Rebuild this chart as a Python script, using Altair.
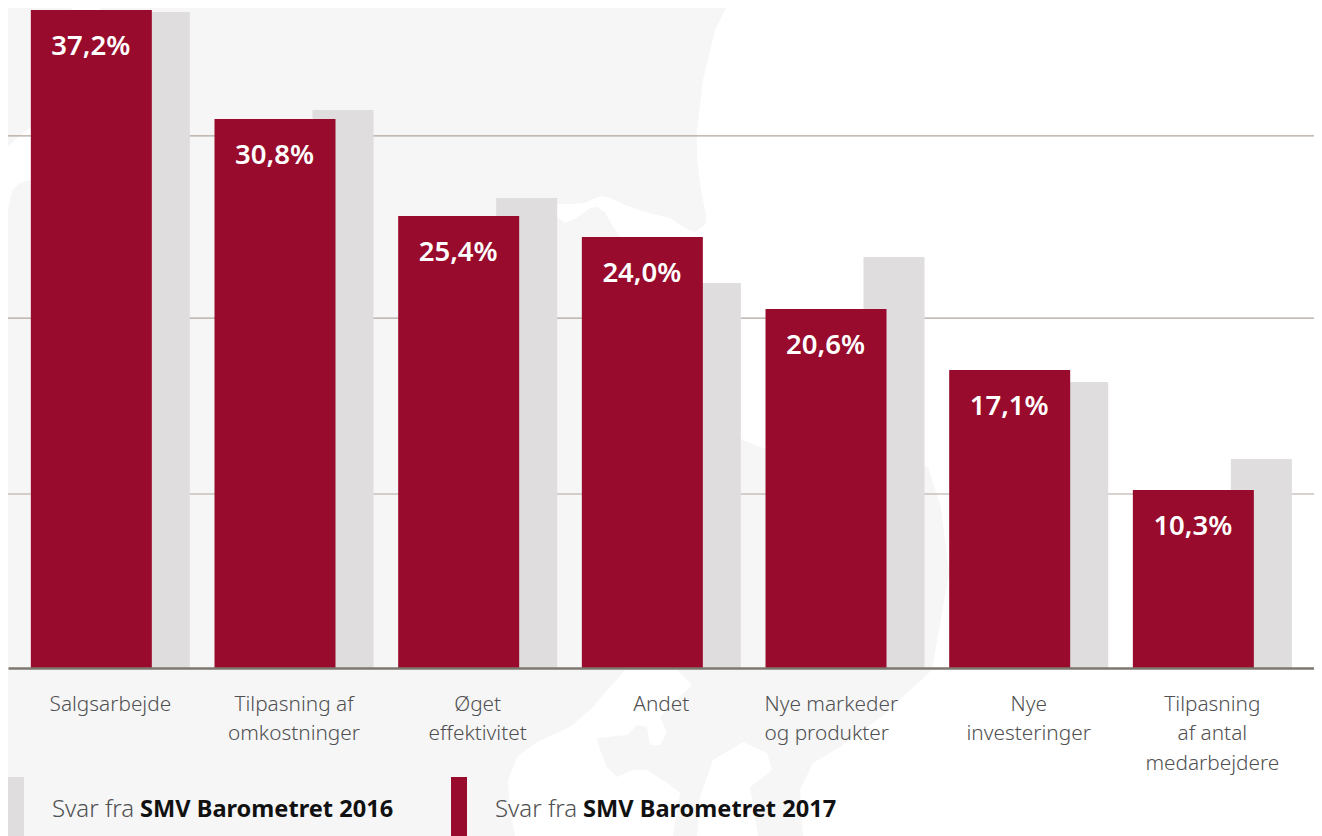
import altair as alt
import pandas as pd

FONT = "Noto Sans"
RED = "#990b2c"
GREY = "#dfddde"

categories = ["Salgsarbejde", "Tilpasning af|omkostninger", "Øget|effektivitet", "Andet",
              "Nye markeder|og produkter", "Nye|investeringer", "Tilpasning|af antal|medarbejdere"]
bar_2017 = [37.18, 31.02, 25.54, 24.35, 20.28, 16.84, 10.06]
bar_2016 = [37.06, 31.53, 26.55, 21.75, 23.22, 16.16, 11.81]
labels_2017 = ["37,2%", "30,8%", "25,4%", "24,0%", "20,6%", "17,1%", "10,3%"]
grid_values = [9.83, 19.77, 30.06]

# faint background map outline
map_outline = [
    (730, 0), (715, 30), (703, 80), (697, 130), (697, 160), (701, 190), (706, 215), (705, 225), (695, 232),
    (685, 228), (670, 218), (645, 212), (625, 205), (610, 198), (603, 196), (598, 197), (585, 203), (570, 204),
    (557, 204), (540, 210), (557, 217), (565, 223), (575, 219), (590, 208), (597, 207), (605, 212), (612, 225),
    (620, 237), (640, 300), (700, 400), (743, 440), (768, 450), (850, 460), (928, 467), (941, 507), (949, 573),
    (932, 670), (881, 717), (840, 747), (813, 763), (800, 790), (803, 836), (758, 836), (750, 787), (772, 770),
    (767, 753), (743, 742), (713, 760), (700, 797), (697, 836), (673, 836), (680, 793), (667, 783), (647, 770),
    (633, 770), (617, 777), (607, 767), (600, 750), (597, 738), (627, 735), (637, 725), (647, 727), (650, 745),
    (660, 745), (667, 733), (660, 717), (673, 703), (692, 685), (677, 670), (625, 670), (610, 687), (593, 707),
    (570, 727), (537, 742), (517, 757), (508, 780), (510, 810), (515, 836), (0, 836), (0, 217), (8, 210),
    (12, 190), (20, 183), (31, 180), (60, 150), (31, 127), (0, 153), (0, 0), (67, 0), (72, 10), (100, 10), (102, 0),
    (730, 0),
]

df = pd.DataFrame({"cat": categories, "v2017": bar_2017, "v2016": bar_2016, "label": labels_2017})

left_test = "datum.value == 'Nye markeder|og produkter'"
x = alt.X("cat:N", sort=categories, title=None,
          scale=alt.Scale(paddingInner=0, paddingOuter=0.0553, align=0.517),
          axis=alt.Axis(labelExpr="split(datum.label, '|')", labelAngle=0, labelFont=FONT, labelFontSize=20.8,
                        labelFontWeight=300, labelColor="#505052", labelLineHeight=29.5, labelPadding=42,
                        labelAlign={"condition": {"test": left_test, "value": "left"}, "value": "center"},
                        labelOffset={"condition": {"test": left_test, "value": -80.5}, "value": 0},
                        labelBaseline="alphabetic", ticks=False, domainColor="#7d786f",
                        domainWidth=2.5, grid=False, zindex=1))
yscale = alt.Scale(domain=[0, 37.288], nice=False)

base = alt.Chart(df)

bg = alt.Chart(alt.Data(values=[{"type": "Feature", "properties": {},
                                 "geometry": {"type": "Polygon", "coordinates": [[list(p) for p in map_outline]]}}])
               ).mark_geoshape(fill="#f6f6f6", stroke=None, clip=False).project(type="identity", scale=1, translate=[-8, -8])

grid = alt.Chart(pd.DataFrame({"g": grid_values})).mark_rule(color="#b0a59d", strokeWidth=1.2).encode(
    y=alt.Y("g:Q", scale=yscale, axis=None))
grey_bars = base.mark_bar(color=GREY, width=61, xOffset=49).encode(
    x=x, y=alt.Y("v2016:Q", scale=yscale, title=None, axis=None))
red_bars = base.mark_bar(color=RED, width=121, xOffset=-19).encode(x=x, y=alt.Y("v2017:Q", scale=yscale, axis=None))
value_text = base.mark_text(color="white", font=FONT, fontSize=27.5, fontWeight=600, baseline="alphabetic",
                            dx=-19.5, dy=45).encode(x=x, y=alt.Y("v2017:Q", scale=yscale, axis=None), text="label:N")

legend_years = ["2016", "2017"]
legend_colors = [GREY, RED]
legend_swatch_left = [0, 443]
legend = []
for yr, col, lx in zip(legend_years, legend_colors, legend_swatch_left):
    legend.append(alt.Chart(pd.DataFrame({"a": [1]})).mark_rect(color=col).encode(
        x=alt.value(lx), x2=alt.value(lx + 16), y=alt.value(769), y2=alt.value(828)))
    legend.append(alt.Chart(pd.DataFrame({"t": ["Svar fra"]})).mark_text(
        font=FONT, fontSize=24, fontWeight=300, color="#505052", align="left", baseline="alphabetic").encode(
        x=alt.value(lx + 44), y=alt.value(809), text="t:N"))
    legend.append(alt.Chart(pd.DataFrame({"t": ["SMV Barometret " + yr]})).mark_text(
        font=FONT, fontSize=23.6, fontWeight=700, color="#111111", align="left", baseline="alphabetic").encode(
        x=alt.value(lx + 132), y=alt.value(809), text="t:N"))

chart = alt.layer(bg, grid, grey_bars, red_bars, value_text, *legend).resolve_scale(y="shared").properties(
    width=1306, height=660, background="white",
    padding={"left": 0, "top": 0, "right": 0, "bottom": 168},
    autosize=alt.AutoSizeParams(type="none"),
).configure_view(stroke=None)

chart.save("out.html", embed_options={"renderer": "svg", "actions": False})
